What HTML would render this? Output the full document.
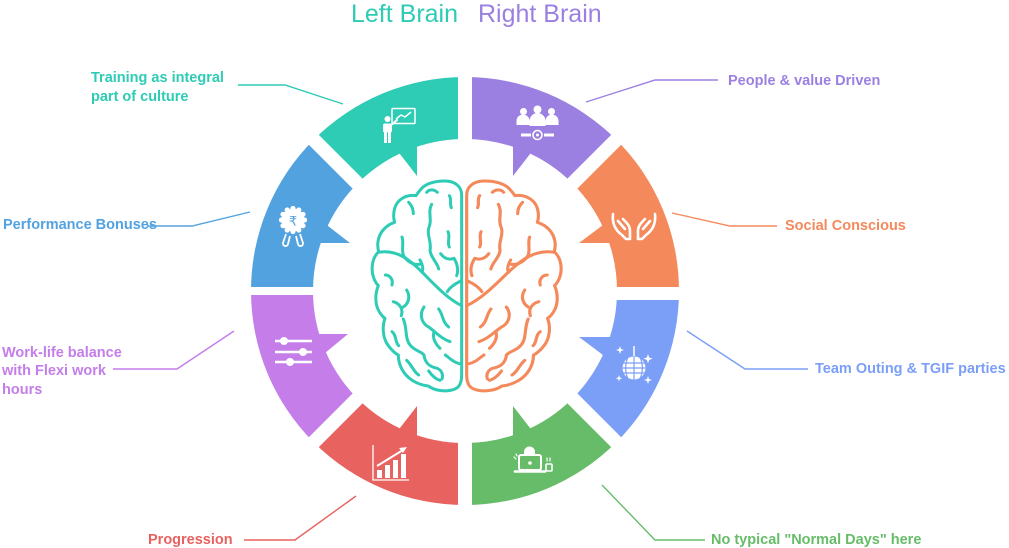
<!DOCTYPE html>
<html>
<head>
<meta charset="utf-8">
<style>
html,body{margin:0;padding:0;background:#fff;}
svg{display:block;}
.lb{font-family:"Liberation Sans",Arial,sans-serif;font-weight:bold;font-size:14.5px;}
.tt{font-family:"Liberation Sans",Arial,sans-serif;font-size:25px;}
</style>
</head>
<body>
<svg width="1009" height="548" viewBox="0 0 1009 548" xmlns="http://www.w3.org/2000/svg">
<defs>
<g id="lh">
<path d="M305,60 C305,35 285,18 255,18 C225,18 200,25 185,40 C178,48 172,55 168,62 C140,58 112,72 104,100 C100,115 100,130 104,142 C80,150 58,170 54,200 C52,212 54,222 56,230 C40,245 33,270 38,298 C42,315 48,325 55,332 C45,355 45,385 55,405 C60,415 68,425 75,430 C66,455 68,490 85,512 C95,525 105,535 115,540 C115,570 130,600 160,618 C180,630 195,632 205,633 C225,648 260,652 285,642 C300,636 305,620 305,600 Z"/>
<path d="M200,52 C207,42 222,42 232,52"/>
<path d="M268,62 C276,72 268,86 274,98"/>
<path d="M146,82 C156,92 160,102 160,116"/>
<path d="M215,88 C202,112 218,132 206,160 C200,182 216,202 210,226 C212,248 232,262 236,282"/>
<path d="M126,186 C132,202 124,222 130,240 C140,260 160,270 178,268"/>
<path d="M180,255 C186,266 192,280 186,292"/>
<path d="M264,170 C272,186 260,200 268,216"/>
<path d="M242,236 C252,250 266,256 282,250 C292,266 296,286 290,302"/>
<path d="M302,318 C286,326 270,336 262,350"/>
<path d="M56,232 C110,222 150,255 185,290 C220,325 260,370 305,392"/>
<path d="M76,300 C90,300 100,314 96,330"/>
<path d="M140,345 C152,365 146,385 130,396"/>
<path d="M100,380 C120,386 130,402 124,422"/>
<path d="M192,396 C176,420 186,446 206,456 C226,470 242,490 270,500"/>
<path d="M236,402 C250,420 246,440 266,456"/>
<path d="M130,432 C142,460 134,490 150,510 C166,530 180,526 192,540"/>
<path d="M96,470 C110,480 104,500 116,512"/>
<path d="M192,542 C196,566 210,576 232,580 C246,586 250,600 246,612"/>
<path d="M140,556 C156,570 160,590 176,600"/>
<path d="M222,470 C216,490 226,506 240,520"/>
<path d="M256,540 C270,550 280,562 298,566"/>
<path d="M206,588 C216,602 226,612 240,616"/>
</g>
</defs>

<!-- Title -->
<text class="tt" x="351" y="22" fill="#2ecbb5">Left Brain</text>
<text class="tt" x="478" y="22" fill="#9b80e2">Right Brain</text>

<!-- Ring segments -->
<path d="M313.7,139.7 A214,214 0 0 1 465,77 L465,139 A152,152 0 0 0 357.5,183.5 Z" fill="#2ecbb5"/>
<path d="M465,77 A214,214 0 0 1 616.3,139.7 L572.5,183.5 A152,152 0 0 0 465,139 Z" fill="#9b80e2"/>
<path d="M616.3,139.7 A214,214 0 0 1 679,291 L617,291 A152,152 0 0 0 572.5,183.5 Z" fill="#f4895b"/>
<path d="M679,291 A214,214 0 0 1 616.3,442.3 L572.5,398.5 A152,152 0 0 0 617,291 Z" fill="#7b9ef6"/>
<path d="M616.3,442.3 A214,214 0 0 1 465,505 L465,443 A152,152 0 0 0 572.5,398.5 Z" fill="#67bc69"/>
<path d="M465,505 A214,214 0 0 1 313.7,442.3 L357.5,398.5 A152,152 0 0 0 465,443 Z" fill="#e8625f"/>
<path d="M313.7,442.3 A214,214 0 0 1 251,291 L313,291 A152,152 0 0 0 357.5,398.5 Z" fill="#c47de9"/>
<path d="M251,291 A214,214 0 0 1 313.7,139.7 L357.5,183.5 A152,152 0 0 0 313,291 Z" fill="#53a2e0"/>

<!-- Pointers -->
<polygon points="513,135 513,176 537,145" fill="#9b80e2"/>
<polygon points="417,135 417,176 393,145" fill="#2ecbb5"/>
<polygon points="513,447 513,406 537,437" fill="#67bc69"/>
<polygon points="417,447 417,406 393,437" fill="#e8625f"/>
<polygon points="579,243 621,243 611,219" fill="#f4895b"/>
<polygon points="579,337 621,337 611,361" fill="#7b9ef6"/>
<polygon points="350,243 309,243 319,219" fill="#53a2e0"/>
<polygon points="348,334 309,334 319,358" fill="#c47de9"/>

<!-- Gaps -->
<rect x="458" y="65" width="14" height="90" fill="#fff"/>
<rect x="458" y="428" width="14" height="90" fill="#fff"/>
<rect x="238" y="287" width="85" height="8" fill="#fff"/>
<rect x="607" y="287" width="85" height="13" fill="#fff"/>
<line x1="306" y1="132" x2="366" y2="192" stroke="#fff" stroke-width="14"/>
<line x1="624" y1="132" x2="564" y2="192" stroke="#fff" stroke-width="14"/>
<line x1="306" y1="450" x2="366" y2="390" stroke="#fff" stroke-width="14"/>
<line x1="624" y1="450" x2="564" y2="390" stroke="#fff" stroke-width="14"/>

<!-- Icons -->
<!-- teal trainer -->
<g fill="#fff" stroke="#fff">
<rect x="392" y="108.5" width="23" height="15" rx="1" fill="none" stroke-width="1.5"/>
<polyline points="396,119 401,115 405,117 411,112" fill="none" stroke-width="1.5"/>
<circle cx="387.5" cy="119" r="3" stroke="none"/>
<rect x="383" y="123.5" width="9" height="9" rx="2" stroke="none"/>
<rect x="384" y="131" width="3" height="12" stroke="none"/>
<rect x="388" y="131" width="3" height="12" stroke="none"/>
<line x1="390" y1="126" x2="397" y2="120" stroke-width="2" stroke-linecap="round"/>
</g>
<!-- purple people -->
<g fill="#fff">
<circle cx="523.5" cy="111.5" r="3.5"/>
<circle cx="537.5" cy="109.5" r="4"/>
<circle cx="551.5" cy="111.5" r="3.5"/>
<path d="M516.5,125 v-4 a6.5,6.5 0 0 1 13,0 v4 z"/>
<path d="M545.5,125 v-4 a6.5,6.5 0 0 1 13,0 v4 z"/>
<path d="M529.5,126 v-5 a8,8 0 0 1 16,0 v5 z"/>
<rect x="521" y="133.5" width="10" height="3"/>
<rect x="544" y="133.5" width="10" height="3"/>
<circle cx="537.5" cy="135" r="4.5" fill="none" stroke="#fff" stroke-width="1.6"/>
<circle cx="537.5" cy="135" r="1.5"/>
</g>
<!-- orange hands -->
<g fill="none" stroke="#fff" stroke-width="2.6" stroke-linecap="round" stroke-linejoin="round">
<path d="M613,214 C612,223 615,230 622,235 L626,239 L630,239 L630,231 C630,226 627,223 623,219"/>
<path d="M618,221 L625,229"/>
<path d="M655,214 C656,223 653,230 646,235 L642,239 L638,239 L638,231 C638,226 641,223 645,219"/>
<path d="M650,221 L643,229"/>
</g>
<!-- blue disco ball -->
<g>
<line x1="634" y1="346" x2="634" y2="357" stroke="#fff" stroke-width="1.5"/>
<circle cx="634" cy="368" r="11.5" fill="#fff"/>
<g stroke="#7b9ef6" stroke-width="1.2" fill="none">
<line x1="622" y1="363" x2="646" y2="363"/>
<line x1="622" y1="368" x2="646" y2="368"/>
<line x1="622" y1="373" x2="646" y2="373"/>
<path d="M628,357 C625,364 625,372 628,379"/>
<path d="M634,356 L634,380"/>
<path d="M640,357 C643,364 643,372 640,379"/>
</g>
<path d="M620,346 l1,3 3,1 -3,1 -1,3 -1,-3 -3,-1 3,-1z" fill="#fff"/>
<path d="M648,354 l1.2,3.5 3.5,1.2 -3.5,1.2 -1.2,3.5 -1.2,-3.5 -3.5,-1.2 3.5,-1.2z" fill="#fff"/>
<path d="M619,375 l0.8,2.5 2.5,0.8 -2.5,0.8 -0.8,2.5 -0.8,-2.5 -2.5,-0.8 2.5,-0.8z" fill="#fff"/>
<path d="M648,376 l1,3 3,1 -3,1 -1,3 -1,-3 -3,-1 3,-1z" fill="#fff"/>
</g>
<!-- green laptop -->
<g fill="none" stroke="#fff" stroke-width="2" stroke-linecap="round">
<path d="M524,455 v-3 a5,5 0 0 1 11,0 v3" fill="#fff" stroke="none"/>
<rect x="519" y="455" width="22" height="15" rx="2"/>
<circle cx="530" cy="463" r="1.8" fill="#fff" stroke="none"/>
<line x1="515" y1="471.5" x2="545" y2="471.5" stroke-width="2.6"/>
<rect x="546" y="464" width="6" height="7" rx="1" stroke-width="1.6"/>
<path d="M547,458 v3 M550,458 v3" stroke-width="1.2"/>
<path d="M514,457 l2,2 M516,454 l1,2" stroke-width="1.2"/>
</g>
<!-- red chart -->
<g fill="#fff">
<polyline points="373,445 373,480 409,480" fill="none" stroke="#fff" stroke-width="1.3"/>
<rect x="377" y="470" width="5" height="8"/>
<rect x="385" y="465" width="5" height="13"/>
<rect x="393" y="460" width="5" height="18"/>
<rect x="401" y="454" width="5" height="24"/>
<line x1="377" y1="466" x2="403" y2="450" stroke="#fff" stroke-width="2"/>
<polygon points="407,447 399,448 403,453"/>
</g>
<!-- violet sliders -->
<g fill="#fff" stroke="#fff">
<line x1="275" y1="341" x2="312" y2="341" stroke-width="2.5"/>
<line x1="275" y1="352" x2="312" y2="352" stroke-width="2.5"/>
<line x1="275" y1="362" x2="312" y2="362" stroke-width="2.5"/>
<circle cx="284" cy="341" r="4" stroke="none"/>
<circle cx="303" cy="352" r="4" stroke="none"/>
<circle cx="290" cy="362" r="4" stroke="none"/>
</g>
<!-- blue-left rupee badge -->
<g fill="#fff">
<circle cx="293" cy="220" r="11.5"/>
<circle cx="293" cy="208.5" r="2.6"/><circle cx="298.8" cy="210" r="2.6"/><circle cx="303" cy="214.3" r="2.6"/>
<circle cx="304.5" cy="220" r="2.6"/><circle cx="303" cy="225.7" r="2.6"/><circle cx="298.8" cy="230" r="2.6"/>
<circle cx="293" cy="231.5" r="2.6"/><circle cx="287.2" cy="230" r="2.6"/><circle cx="283" cy="225.7" r="2.6"/>
<circle cx="281.5" cy="220" r="2.6"/><circle cx="283" cy="214.3" r="2.6"/><circle cx="287.2" cy="210" r="2.6"/>
<text x="293" y="225.5" text-anchor="middle" font-family="DejaVu Sans, Liberation Sans, sans-serif" font-size="13" fill="#53a2e0">₹</text>
<path d="M286,234 l-3,9 a2.5,2.5 0 0 0 5,1 l2,-8" fill="none" stroke="#fff" stroke-width="1.8"/>
<path d="M300,234 l3,9 a2.5,2.5 0 0 1 -5,1 l-2,-8" fill="none" stroke="#fff" stroke-width="1.8"/>
</g>

<!-- Brain -->
<g transform="translate(360,175) scale(0.33333)" fill="none" stroke-width="9" stroke-linecap="round" stroke-linejoin="round">
<use href="#lh" stroke="#2ecbb5"/>
<g transform="matrix(-1.055 0 0 1 641.8 0)">
<use href="#lh" stroke="#f4895b"/>
</g>
</g>

<!-- Leader lines -->
<g fill="none" stroke-width="1.4">
<polyline points="238,85 285,85 343,104" stroke="#2ecbb5"/>
<polyline points="586,102 655,80 718,80" stroke="#9b80e2"/>
<polyline points="147,226 192,226 250,212" stroke="#53a2e0"/>
<polyline points="672,213 730,226 777,226" stroke="#f4895b"/>
<polyline points="113,369 177,369 234,331" stroke="#c47de9"/>
<polyline points="687,331 745,369 808,369" stroke="#7b9ef6"/>
<polyline points="356,496 295,540 244,540" stroke="#e8625f"/>
<polyline points="602,485 655,540 705,540" stroke="#67bc69"/>
</g>

<!-- Labels -->
<text class="lb" x="91" y="82" fill="#2ecbb5">Training as integral</text>
<text class="lb" x="91" y="101" fill="#2ecbb5">part of culture</text>
<text class="lb" x="728" y="85" fill="#9b80e2">People &amp; value Driven</text>
<text class="lb" x="3" y="229" fill="#53a2e0">Performance Bonuses</text>
<text class="lb" x="785" y="230" fill="#f4895b">Social Conscious</text>
<text class="lb" x="2" y="357" fill="#c47de9">Work-life balance</text>
<text class="lb" x="2" y="375" fill="#c47de9">with Flexi work</text>
<text class="lb" x="2" y="394" fill="#c47de9">hours</text>
<text class="lb" x="815" y="373" fill="#7b9ef6">Team Outing &amp; TGIF parties</text>
<text class="lb" x="148" y="544" fill="#e8625f">Progression</text>
<text class="lb" x="711" y="544" fill="#67bc69">No typical "Normal Days" here</text>
</svg>
</body>
</html>
